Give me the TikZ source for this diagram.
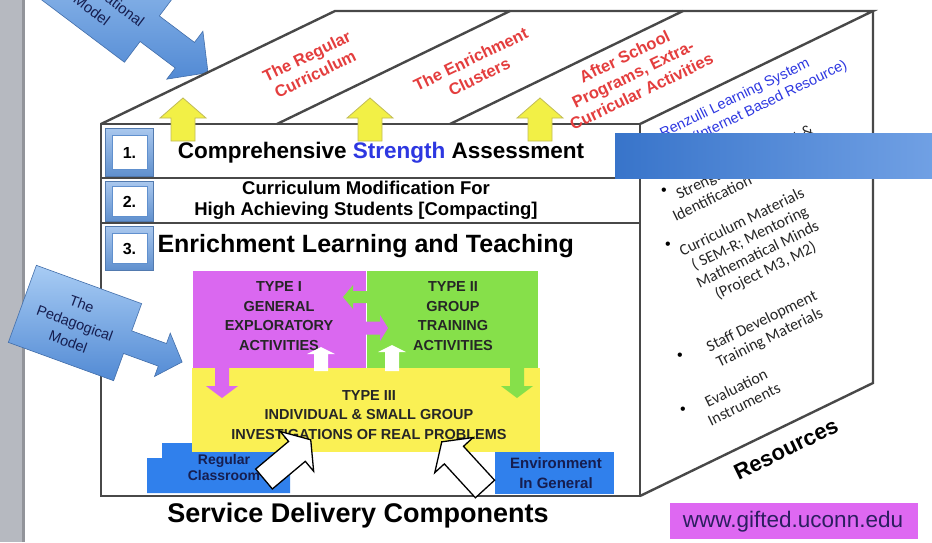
\documentclass[tikz,border=0pt]{standalone}
\usepackage{fontspec}
\setmainfont{Liberation Sans}
\newfontfamily\calib{Carlito}
\definecolor{frameC}{RGB}{72,72,72}
\definecolor{redT}{RGB}{228,62,62}
\definecolor{blueT}{RGB}{45,55,225}
\definecolor{purp}{RGB}{218,104,240}
\definecolor{grn}{RGB}{134,224,74}
\definecolor{yel}{RGB}{250,240,84}
\definecolor{bbox}{RGB}{48,128,236}
\definecolor{navy}{RGB}{22,30,80}
\definecolor{arrL}{RGB}{168,204,244}
\definecolor{arrD}{RGB}{82,138,212}
\definecolor{ylA}{RGB}{242,240,70}
\definecolor{barL}{RGB}{56,116,202}
\definecolor{barR}{RGB}{112,160,228}
\definecolor{lblL}{RGB}{170,200,238}
\definecolor{lblD}{RGB}{96,144,206}
\definecolor{strip}{RGB}{182,185,192}
\definecolor{urlbox}{RGB}{222,104,242}
\definecolor{urlT}{RGB}{44,30,96}
\newcommand\blkarrow[8]{%
  \path[#8, shift={(#1,#2)}, rotate=#3] (0,-#6) -- (#4,-#6) -- (#4,-#7) -- (#5,0) -- (#4,#7) -- (#4,#6) -- (0,#6) -- cycle;}
\tikzset{
  frame/.style={draw=frameC, line width=2.4pt},
  lblbox/.style={top color=lblL, bottom color=lblD, draw=lblD!85!black, line width=0.6pt},
  lblin/.style={fill=white, draw=lblD, line width=0.5pt},
  numtxt/.style={font=\bfseries\fontsize{16}{18}\selectfont},
  boxtxt/.style={font=\bfseries\fontsize{14.5}{19.6}\selectfont, text=black!85, align=center},
  redtxt/.style={rotate=25.8, font=\bfseries\fontsize{16.5}{19.5}\selectfont, text=redT, align=center},
  listtxt/.style={rotate=26, font=\calib\fontsize{16}{18}\selectfont, text=black!85, align=center},
  bul/.style={font=\fontsize{16}{16}\selectfont},
  bluetxt/.style={rotate=26, font=\fontsize{14.5}{17}\selectfont, text=blueT},
  navytxt/.style={text=navy, align=center},
  yarrow/.style={fill=ylA, draw=olive!55, line width=0.8pt},
  warrow/.style={fill=white, draw=black, line width=1.3pt},
  calloutC/.style={top color=arrL, bottom color=arrD, draw=arrD!80!black, line width=0.6pt}
}
\begin{document}
\begin{tikzpicture}[x=1pt,y=-1pt]
\useasboundingbox (0,0) rectangle (932,542);
\clip (0,0) rectangle (932,542);
\fill[white] (0,0) rectangle (932,542);
% slide edge
\fill[strip] (0,0) rectangle (22,542);
\fill[strip!80!black] (22,0) rectangle (25,542);

% organizational model arrow (cut by top edge)
\begin{scope}[shift={(101,-8)}, rotate=-37]
  \shade[calloutC] (-60,-42) -- (61,-42) -- (61,-16) -- (105,-16) -- (105,-30) -- (134,0) -- (105,30) -- (105,16) -- (61,16) -- (61,42) -- (-60,42) -- cycle;
\end{scope}
\node[rotate=-37, font=\fontsize{15}{20}\selectfont, navytxt] (orgtxt) at (104,-6) {The\\Organizational\\Model};

% coloured boxes
\fill[bbox] (147,493) -- (147,458) -- (162,458) -- (162,443) -- (290,443) -- (290,493) -- cycle;
\fill[bbox] (495,452) rectangle (614,494);
\fill[purp] (193,271) rectangle (366,372);
\fill[grn] (367,271) rectangle (538,372);
\fill[yel] (192,368) rectangle (540,452);

% cube frame
\draw[frame] (101,124) rectangle (640,496);
\draw[frame] (101,124) -- (335,11) -- (873,11) -- (640,124);
\draw[frame] (277,124) -- (510,11);
\draw[frame] (450,124) -- (683,11);
\draw[frame] (873,11) -- (873,383) -- (640,496);
\draw[frame] (101,178) -- (640,178);
\draw[frame] (101,223) -- (640,223);

% row label boxes
\shade[lblbox] (105,128) rectangle (153,176);
\draw[lblin] (112,135) rectangle (147,169);
\node[numtxt] (n1) at (129.5,153) {1.};
\shade[lblbox] (105,181) rectangle (153,221);
\draw[lblin] (112,186) rectangle (147,216);
\node[numtxt] (n2) at (129.5,202) {2.};
\shade[lblbox] (105,226) rectangle (153,270);
\draw[lblin] (112,233) rectangle (147,263);
\node[numtxt] (n3) at (129.5,249) {3.};

% row texts
\node[font=\bfseries\fontsize{22.5}{25}\selectfont] (r1) at (381,153) {Comprehensive \textcolor{blueT}{Strength} Assessment};
\node[font=\bfseries\fontsize{18.5}{21}\selectfont, align=center] (r2) at (366,200) {Curriculum Modification For\\High Achieving Students [Compacting]};
\node[font=\bfseries\fontsize{25}{28}\selectfont, anchor=west] (r3) at (154,246) {Enrichment Learning and Teaching};

% box texts
\node[boxtxt] (t1) at (279,316) {TYPE I\\GENERAL\\EXPLORATORY\\ACTIVITIES};
\node[boxtxt] (t2) at (453,316) {TYPE II\\GROUP\\TRAINING\\ACTIVITIES};
\node[boxtxt] (t3) at (369,415) {TYPE III\\INDIVIDUAL \& SMALL GROUP\\INVESTIGATIONS OF REAL PROBLEMS};

% small arrows between types
\blkarrow{373}{297}{180}{20}{30}{6}{12}{fill=grn}
\blkarrow{358}{328}{0}{22}{30}{6.5}{13}{fill=purp}
\blkarrow{321}{371}{90}{17}{24}{7}{14}{fill=white}
\blkarrow{392}{371}{90}{19}{26}{7}{14}{fill=white}
\blkarrow{222}{366}{-90}{20}{32}{7}{16}{fill=purp}
\blkarrow{517}{366}{-90}{20}{32}{7}{16}{fill=grn}

% service delivery boxes
\node[font=\bfseries\fontsize{14}{16}\selectfont, navytxt] (rc) at (224,467) {Regular\\Classroom};
\node[font=\bfseries\fontsize{15}{20}\selectfont, navytxt] (eg) at (556,473) {Environment\\In General};
\blkarrow{264}{479}{40}{43}{61}{13}{26}{warrow}
\blkarrow{485}{489}{132.5}{46}{64}{13}{26}{warrow}

% yellow arrows on the top face
\blkarrow{183}{141}{90}{23}{43}{12}{23}{yarrow}
\blkarrow{370}{141}{90}{23}{43}{12}{23}{yarrow}
\blkarrow{540}{141}{90}{23}{43}{12}{23}{yarrow}

% top face labels
\node[redtxt] (c1) at (311,65) {The Regular\\Curriculum};
\node[redtxt] (c2) at (475,68) {The Enrichment\\Clusters};
\node[redtxt] (c3) at (633,74) {After School\\Programs, Extra-\\Curricular Activities};

% right face: resources
\node[bluetxt] (rz1) at (735,99) {Renzulli Learning System};
\node[bluetxt] (rz2) at (770,102) {(Internet Based Resource)};
\node[listtxt] (l1a) at (745,163) {Strength Assessment \&};
\node[listtxt] (l1b) at (712,198) {Identification};
\node[listtxt] (l2) at (754,247) {Curriculum Materials\\( SEM-R; Mentoring\\Mathematical Minds\\(Project M3, M2)};
\node[listtxt] (l3) at (766,330) {Staff Development\\Training Materials};
\node[listtxt] (l4) at (740,396) {Evaluation\\Instruments};
\node[bul] (b1) at (664,192) {•};
\node[bul] (b2) at (668,246) {•};
\node[bul] (b3) at (680,357) {•};
\node[bul] (b4) at (683,411) {•};
\node[rotate=26, font=\bfseries\fontsize{22}{24}\selectfont] (res) at (786,449) {Resources};

% blue bar
\shade[left color=barL, right color=barR] (615,133) rectangle (932,178);

% pedagogical model arrow
\begin{scope}[shift={(75,323)}, rotate=-20]
  \shade[calloutC] (-56,-41) -- (56,-41) -- (56,-12) -- (93,-12) -- (93,-23) -- (114,0) -- (93,23) -- (93,12) -- (56,12) -- (56,41) -- (-56,41) -- cycle;
\end{scope}
\node[rotate=-20, font=\fontsize{14.5}{20}\selectfont, navytxt] (ped) at (75,323) {The\\Pedagogical\\Model};

% captions
\node[font=\bfseries\fontsize{27}{30}\selectfont] (sdc) at (358,516) {Service Delivery Components};
\fill[urlbox] (670,503) rectangle (918,539);
\node[font=\fontsize{22.5}{24}\selectfont, text=urlT] (url) at (793,522) {www.gifted.uconn.edu};
\end{tikzpicture}
\end{document}
